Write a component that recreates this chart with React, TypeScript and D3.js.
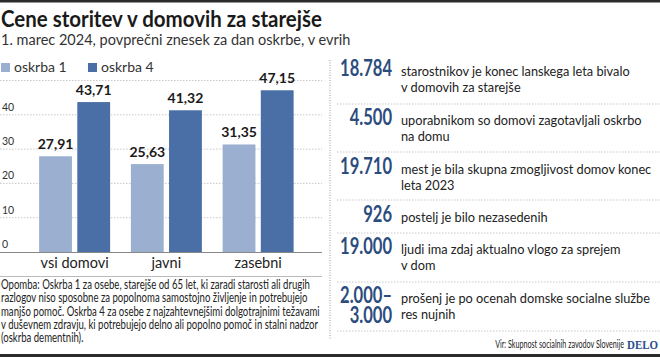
import React, { useLayoutEffect, useRef, useState } from "react";
import * as d3 from "d3";

const categories = ["vsi domovi", "javni", "zasebni"];
const seriesNames = ["oskrba 1", "oskrba 4"];
const oskrba1 = [27.91, 25.63, 31.35];
const oskrba4 = [43.71, 41.32, 47.15];
const yTicks = [0, 10, 20, 30, 40, 50];

const statNumbers = [["18.784"], ["4.500"], ["19.710"], ["926"], ["19.000"], ["2.000–", "3.000"]];
const statTexts = [
  ["starostnikov je konec lanskega leta bivalo", "v domovih za starejše"],
  ["uporabnikom so domovi zagotavljali oskrbo", "na domu"],
  ["mest je bila skupna zmogljivost domov konec", "leta 2023"],
  ["postelj je bilo nezasedenih"],
  ["ljudi ima zdaj aktualno vlogo za sprejem", "v dom"],
  ["prošenj je po ocenah domske socialne službe", "res nujnih"],
];

const noteLines = [
  "Opomba: Oskrba 1 za osebe, starejše od 65 let, ki zaradi starosti ali drugih",
  "razlogov niso sposobne za popolnoma samostojno življenje in potrebujejo",
  "manjšo pomoč. Oskrba 4 za osebe z najzahtevnejšimi dolgotrajnimi težavami",
  "v duševnem zdravju, ki potrebujejo delno ali popolno pomoč in stalni nadzor",
  "(oskrba dementnih).",
];

const title = "Cene storitev v domovih za starejše";
const subtitle = "1. marec 2024, povprečni znesek za dan oskrbe, v evrih";
const source = "Vir: Skupnost socialnih zavodov Slovenije";
const brand = "DELO";

const SANS = "Lato, 'Open Sans', sans-serif";
const SERIF = "'Liberation Serif', 'DejaVu Serif', serif";
const LIGHT = "#9bb0d1";
const DARK = "#4a6fa6";
const NUMC = "#2c4c7e";

const rowBaselines = [76, 125, 174, 222, 254, 303];
const separators = [104, 152, 200, 233, 282, 331];

function useFit(target: number) {
  const ref = useRef<SVGTextElement>(null);
  const [k, setK] = useState(1);
  useLayoutEffect(() => {
    if (ref.current) {
      const w = ref.current.getComputedTextLength();
      if (w > 0) setK(target / w);
    }
  }, [target]);
  return [ref, k] as const;
}

export default function App() {
  const y = d3.scaleLinear().domain([0, 50]).range([252, 80.5]);
  const x0 = d3.scaleBand<string>().domain(categories).range([28.75, 304]).padding(0);
  const x1 = d3.scaleBand<string>().domain(seriesNames).range([0, 71]).paddingInner(0.14);
  const groupW = 71;
  const values = [oskrba1, oskrba4];
  const colors = [LIGHT, DARK];
  const fmt = (v: number) => v.toFixed(2).replace(".", ",");

  const [titleRef, titleK] = useFit(321);
  const [noteRef, noteK] = useFit(309);
  const [numRef, numK] = useFit(52);
  const [statRef, statK] = useFit(229);
  const [srcRef, srcK] = useFit(129);
  const [brandRef, brandK] = useFit(31);

  return (
    <svg width={660} height={357} style={{ position: "absolute", left: 0, top: 0, background: "#fff" }}>
      <rect x={0} y={0} width={660} height={2.5} fill="#2b2b2b" />
      <g transform={`translate(1,27) scale(${titleK},1)`}>
        <text ref={titleRef} x={0} y={0} fontFamily={SANS} fontWeight={700} fontSize={22} fill="#1a1a1a">{title}</text>
      </g>
      <text x={1} y={45} fontFamily={SANS} fontSize={14.5} fill="#333">{subtitle}</text>

      {/* legend */}
      {seriesNames.map((s, i) => (
        <g key={s} transform={`translate(${i === 0 ? 1 : 88},63)`}>
          <rect width={9} height={9} fill={colors[i]} />
          <text x={13} y={9} fontFamily={SANS} fontSize={14} fill="#333">{s}</text>
        </g>
      ))}

      {/* grid */}
      {yTicks.map((t) => (
        <g key={t}>
          {t > 0 && (
            <line x1={0} x2={322} y1={y(t)} y2={y(t)} stroke="#c8c8c8" strokeWidth={1} strokeDasharray="1.5,1.5" />
          )}
          {t < 50 && (
            <text x={2} y={y(t) - 4} fontFamily={SANS} fontSize={10.5} fill="#333">{t}</text>
          )}
        </g>
      ))}

      {/* bars */}
      {categories.map((c, ci) => {
        const gx = (x0(c) as number) + x0.bandwidth() / 2 - groupW / 2;
        return (
          <g key={c} transform={`translate(${gx},0)`}>
            {seriesNames.map((s, si) => {
              const v = values[si][ci];
              const bx = x1(s) as number;
              return (
                <g key={s}>
                  <rect x={bx} y={y(v)} width={x1.bandwidth()} height={y(0) - y(v)} fill={colors[si]} />
                  <text x={bx + x1.bandwidth() / 2} y={y(v) - 7} textAnchor="middle" fontFamily={SANS} fontWeight={700} fontSize={14} fill="#1a1a1a">{fmt(v)}</text>
                </g>
              );
            })}
          </g>
        );
      })}
      <line x1={0} x2={322} y1={y(0) + 0.5} y2={y(0) + 0.5} stroke="#888" strokeWidth={1} />

      {categories.map((c) => (
        <text key={c} x={(x0(c) as number) + x0.bandwidth() / 2} y={268} textAnchor="middle" fontFamily={SANS} fontSize={14.5} fill="#222">{c}</text>
      ))}
      <line x1={0} x2={322} y1={276.5} y2={276.5} stroke="#bbb" strokeWidth={1.2} />

      <g transform={`translate(1,0) scale(${noteK},1)`}>
        {noteLines.map((l, i) => (
          <text key={i} ref={i === 0 ? noteRef : undefined} x={0} y={289 + i * 13.3} fontFamily={SANS} fontSize={12.8} fill="#222">{l}</text>
        ))}
      </g>

      {/* vertical divider */}
      <line x1={330} x2={330} y1={60} y2={340} stroke="#999" strokeWidth={1} strokeDasharray="1,1.5" />

      {/* stats */}
      {separators.map((sy, i) => (
        <line key={i} x1={337} x2={660} y1={sy} y2={sy} stroke="#c8c8c8" strokeWidth={1} strokeDasharray="1.5,1.5" />
      ))}
      {statNumbers.map((nums, i) => (
        <g key={i}>
          {nums.map((n, j) => (
            <g key={j} transform={`translate(392,${rowBaselines[i] + j * 20}) scale(${numK},1)`}>
              <text ref={i === 0 && j === 0 ? numRef : undefined} x={0} y={0} textAnchor="end" fontFamily={SANS} fontWeight={700} fontSize={22.5} fill={NUMC}>{n}</text>
            </g>
          ))}
          {statTexts[i].map((t, j) => (
            <g key={j} transform={`translate(401,${rowBaselines[i] + j * 16}) scale(${statK},1)`}>
              <text ref={i === 0 && j === 0 ? statRef : undefined} x={0} y={0} fontFamily={SANS} fontSize={14} fill="#222">{t}</text>
            </g>
          ))}
        </g>
      ))}

      <g transform={`translate(624,348) scale(${srcK},1)`}>
        <text ref={srcRef} x={0} y={0} textAnchor="end" fontFamily={SANS} fontSize={10.5} fill="#222">{source}</text>
      </g>
      <g transform={`translate(627,349) scale(${brandK},1)`}>
        <text ref={brandRef} x={0} y={0} fontFamily={SERIF} fontWeight={700} fontSize={13} fill="#2a4f8f">{brand}</text>
      </g>
      <rect x={0} y={354} width={660} height={3} fill="#2b2b2b" />
    </svg>
  );
}
